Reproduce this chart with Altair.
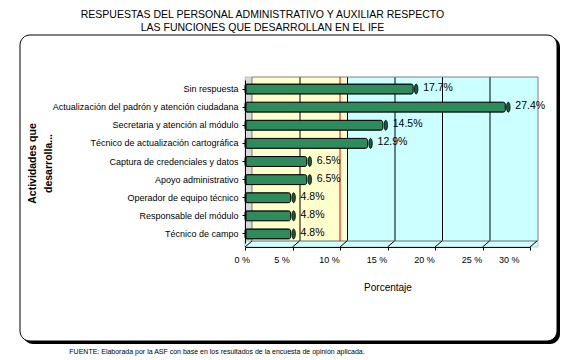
import altair as alt
import pandas as pd

categories = [
    "Sin respuesta",
    "Actualización del padrón y atención ciudadana",
    "Secretaria y atención al módulo",
    "Técnico de actualización cartográfica",
    "Captura de credenciales y datos",
    "Apoyo administrativo",
    "Operador de equipo técnico",
    "Responsable del módulo",
    "Técnico de campo",
]
values = [17.7, 27.4, 14.5, 12.9, 6.5, 6.5, 4.8, 4.8, 4.8]
value_labels = ["17.7%", "27.4%", "14.5%", "12.9%", "6.5%", "6.5%", "4.8%", "4.8%", "4.8%"]

tick_values = [0, 5, 10, 15, 20, 25, 30]
grid_values = [5, 10, 15, 20, 25]
band_start = [0, 10]
band_end = [10, 30]
band_color = ["#ffffcc", "#ccffff"]
ref_line = [10]

title_lines = [
    "RESPUESTAS DEL PERSONAL ADMINISTRATIVO Y AUXILIAR RESPECTO",
    "LAS FUNCIONES QUE DESARROLLAN EN EL IFE",
]
y_title = ["Actividades que", "desarrolla..."]
x_title = "Porcentaje"
footer = "FUENTE: Elaborada por la ASF con base en los resultados de la encuesta de opinión aplicada."

W, H = 285, 163
FONT = "Liberation Sans"

bars_df = pd.DataFrame({"cat": categories, "val": values, "lab": value_labels})
bands_df = pd.DataFrame({"s": band_start, "e": band_end, "c": band_color})
grid_df = pd.DataFrame({"v": grid_values})
ticks_df = pd.DataFrame({"v": tick_values})
ref_df = pd.DataFrame({"v": ref_line})
one_df = pd.DataFrame({"t": [footer]})
wall_df = pd.DataFrame({"s": [0], "e": [30]})

xscale = alt.Scale(domain=[0, 30], nice=False, zero=False)
yscale = alt.Scale(domain=categories, paddingInner=0.45, paddingOuter=0.225)

x_axis = alt.Axis(values=tick_values, labelExpr="datum.value + ' %'", title=x_title,
                  offset=4, grid=False, domainColor="black", tickColor="black",
                  tickSize=3, labelPadding=5, labelOffset=-11,
                  labelFontSize=9, labelFont=FONT, labelColor="black",
                  titleFont=FONT, titleFontSize=10, titleFontWeight="normal",
                  titleColor="black", titleY=40, titleBaseline="middle", zindex=2)
y_axis = alt.Axis(title=y_title, titleFont=FONT, titleFontSize=10.5, titleFontWeight="bold",
                  titleColor="black", titleAngle=270, titleX=-218, titleY=83,
                  titleAlign="center", titleBaseline="top", titleLineHeight=16,
                  labelFont=FONT, labelFontSize=9, labelColor="black",
                  labelPadding=4, tickSize=3, tickColor="black", domainColor="black",
                  labelLimit=300, grid=False, zindex=2)


def X(field):
    return alt.X(field, scale=xscale, axis=x_axis)


def Y():
    return alt.Y("cat:N", sort=categories, scale=yscale, axis=y_axis)


# rounded frame with shadow
shadow = alt.Chart(one_df).mark_rect(fill="black", cornerRadius=10).encode(
    x=alt.value(-222), x2=alt.value(315), y=alt.value(-43), y2=alt.value(264)
)
frame = alt.Chart(one_df).mark_rect(fill="white", stroke="black", strokeWidth=1, cornerRadius=10).encode(
    x=alt.value(-225), x2=alt.value(312), y=alt.value(-45), y2=alt.value(261)
)

side = alt.Chart(wall_df).mark_rect(fill="#d9d9d9", stroke="#9a9a9a", strokeWidth=0.5,
                                    x2Offset=7, yOffset=-3, y2Offset=4).encode(
    x=X("s:Q"), x2=alt.X2("s"),
    y=alt.value(0), y2=alt.value(H)
)

bands = alt.Chart(bands_df).mark_rect(xOffset=7, x2Offset=8, yOffset=-3, y2Offset=-2).encode(
    x=X("s:Q"), x2=alt.X2("e"),
    y=alt.value(0), y2=alt.value(H),
    fill=alt.Fill("c:N", scale=None),
)

floor = alt.Chart(wall_df).mark_rect(fill="#ccffff", stroke="#9a9a9a", strokeWidth=0.5,
                                      xOffset=0, x2Offset=8, yOffset=-2, y2Offset=4).encode(
    x=X("s:Q"), x2=alt.X2("e"),
    y=alt.value(H), y2=alt.value(H)
)

grid = alt.Chart(grid_df).mark_rule(color="black", strokeWidth=1, xOffset=7.5, x2Offset=7.5,
                                     yOffset=-3, y2Offset=-2).encode(
    x=X("v:Q"), x2=alt.X2("v"),
    y=alt.value(0), y2=alt.value(H)
)

wall_border = alt.Chart(wall_df).mark_rect(fill=None, stroke="#808080", strokeWidth=1,
                                            xOffset=7, x2Offset=8, yOffset=-3, y2Offset=-2).encode(
    x=X("s:Q"), x2=alt.X2("e"),
    y=alt.value(0), y2=alt.value(H)
)

red = alt.Chart(ref_df).mark_rule(color="#e00000", strokeWidth=1, yOffset=-3, y2Offset=-2).encode(
    x=X("v:Q"), x2=alt.X2("v"),
    y=alt.value(0), y2=alt.value(H)
)

diag = alt.Chart(ticks_df).mark_rule(color="black", strokeWidth=1, x2Offset=7, yOffset=4, y2Offset=-2).encode(
    x=X("v:Q"), x2=alt.X2("v"),
    y=alt.value(H), y2=alt.value(H)
)

bars = alt.Chart(bars_df).mark_bar(fill="#2e8b5c", stroke="black", strokeWidth=1,
                                   cornerRadius=2, xOffset=1, x2Offset=3).encode(
    x=X("val:Q"),
    y=Y(),
)

cap_path = "M0,-1 A0.35,1 0 1,1 0,1 A0.35,1 0 1,1 0,-1 Z"
caps = alt.Chart(bars_df).mark_point(shape=cap_path, size=100, filled=True, fill="#1d5c3c",
                                     stroke="black", strokeWidth=0.8, opacity=1, xOffset=3).encode(
    x=X("val:Q"),
    y=Y(),
)

labels = alt.Chart(bars_df).mark_text(align="left", baseline="middle", dx=10, dy=-1,
                                      font=FONT, fontSize=10.5, color="black").encode(
    x=X("val:Q"),
    y=Y(),
    text="lab:N",
)

foot = alt.Chart(one_df).mark_text(align="center", baseline="middle", font=FONT,
                                   fontSize=7, color="black").encode(
    x=alt.value(-28), y=alt.value(272), text="t:N"
)

chart = alt.layer(
    shadow, frame, side, bands, floor, grid, wall_border, red, diag, bars, caps, labels, foot
).properties(
    width=W, height=H,
    title=alt.TitleParams(text=title_lines, font=FONT, fontSize=10.5, fontWeight="normal",
                          color="black", anchor="middle", dx=-125, offset=1, lineHeight=13),
    autosize=alt.AutoSizeParams(type="none"),
    padding={"left": 237, "top": 72, "right": 50, "bottom": 117},
).configure_view(stroke=None).configure(background="white")

chart.save("out.html", embed_options={"renderer": "svg", "actions": False})
